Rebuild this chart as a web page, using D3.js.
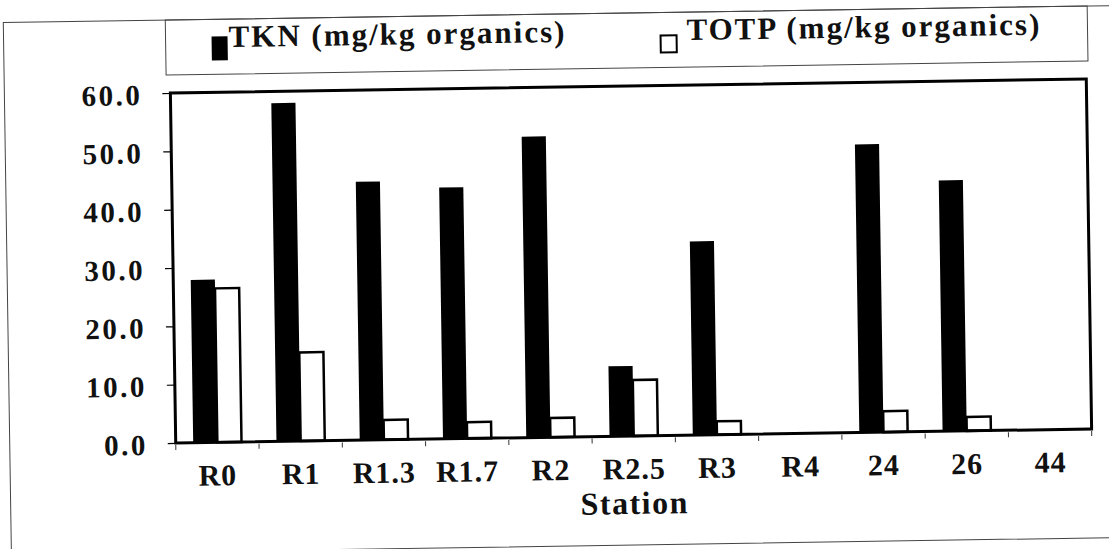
<!DOCTYPE html>
<html>
<head>
<meta charset="utf-8">
<script src="https://cdn.jsdelivr.net/npm/d3@7"></script>
<style>
  body { margin: 0; background: #fff; }
  text { font-family: "Liberation Serif", "Times New Roman", serif; font-weight: bold; fill: #111; }
</style>
</head>
<body>
<svg id="chart"></svg>
<script>
// Data
const stations = ["R0", "R1", "R1.3", "R1.7", "R2", "R2.5", "R3", "R4", "24", "26", "44"];
const tkn  = [27.9, 58.0, 44.3, 43.1, 51.6, 12.0, 33.2, 0, 49.4, 43.0, 0];
const totp = [26.4, 15.2, 3.4, 2.8, 3.3, 9.6, 2.3, 0, 3.6, 2.4, 0];
const yTicks = [0, 10, 20, 30, 40, 50, 60];
const seriesNames = ["TKN (mg/kg organics)", "TOTP (mg/kg organics)"];

const width = 1109, height = 549;
const plot = {left: 173, right: 1089, top: 86, bottom: 436};

const svg = d3.select("#chart")
    .attr("width", width)
    .attr("height", height);

svg.append("rect")
    .attr("width", width)
    .attr("height", height)
    .attr("fill", "#fff");

// the scan is slightly tilted, so everything sits in one rotated group
const g = svg.append("g")
    .attr("transform", "rotate(-0.875, 631, 261)");

// outer chart frame and legend box (thin, grey)
g.append("rect")
    .attr("x", 7).attr("y", 13)
    .attr("width", 1140).attr("height", 532)
    .attr("fill", "none")
    .attr("stroke", "#444")
    .attr("stroke-width", 1);
g.append("rect")
    .attr("x", 169).attr("y", 13)
    .attr("width", 922).attr("height", 55)
    .attr("fill", "none")
    .attr("stroke", "#444")
    .attr("stroke-width", 1);

// scales
const x0 = d3.scaleBand()
    .domain(stations)
    .range([plot.left, plot.right])
    .paddingInner(0.42)
    .paddingOuter(0.21);
const x1 = d3.scaleBand()
    .domain(["tkn", "totp"])
    .range([0, x0.bandwidth()]);
const y = d3.scaleLinear()
    .domain([0, 60])
    .range([plot.bottom, plot.top]);

// bars
const rows = stations.map((s, i) => ({station: s, tkn: tkn[i], totp: totp[i]}));
const groups = g.selectAll(".station")
    .data(rows)
    .join("g")
        .attr("class", "station")
        .attr("transform", d => "translate(" + x0(d.station) + ",0)");
groups.append("rect")
    .attr("x", x1("tkn"))
    .attr("width", x1.bandwidth())
    .attr("y", d => y(d.tkn))
    .attr("height", d => y(0) - y(d.tkn))
    .attr("fill", "#000");
groups.filter(d => d.totp > 0).append("rect")
    .attr("x", x1("totp"))
    .attr("width", x1.bandwidth())
    .attr("y", d => y(d.totp))
    .attr("height", d => y(0) - y(d.totp))
    .attr("fill", "#fff")
    .attr("stroke", "#000")
    .attr("stroke-width", 2.5);

// plot box
g.append("rect")
    .attr("x", plot.left).attr("y", plot.top)
    .attr("width", plot.right - plot.left)
    .attr("height", plot.bottom - plot.top)
    .attr("fill", "none")
    .attr("stroke", "#000")
    .attr("stroke-width", 3);

// y axis
const yAxis = g.append("g")
    .attr("transform", "translate(" + plot.left + ",0)")
    .call(d3.axisLeft(y).tickValues(yTicks).tickFormat(d3.format(".1f")).tickSize(8).tickPadding(20));
yAxis.select(".domain").remove();
yAxis.selectAll(".tick line").attr("stroke", "#000").attr("stroke-width", 1.2);
yAxis.selectAll(".tick text")
    .style("font-family", "'Liberation Serif', serif")
    .style("font-weight", "bold")
    .style("font-size", "29px")
    .style("letter-spacing", "2.5px")
    .attr("fill", "#111")
    .attr("dy", "0.38em");

// x axis: small ticks between stations, labels centred
const step = x0.step();
const bounds = stations.map(s => x0(s) - step * x0.paddingInner() / 2).concat([plot.right]);
g.selectAll(".xTick")
    .data(bounds)
    .join("line")
        .attr("class", "xTick")
        .attr("x1", d => d).attr("x2", d => d)
        .attr("y1", plot.bottom + 2).attr("y2", plot.bottom + 7)
        .attr("stroke", "#333")
        .attr("stroke-width", 1);
g.selectAll(".xLabel")
    .data(stations)
    .join("text")
        .attr("class", "xLabel")
        .attr("x", d => x0(d) + x0.bandwidth() / 2)
        .attr("y", plot.bottom + 43)
        .attr("text-anchor", "middle")
        .style("font-size", "30px")
        .style("letter-spacing", "1px")
        .text(d => d);
g.append("text")
    .attr("x", (plot.left + plot.right) / 2)
    .attr("y", plot.bottom + 78)
    .attr("text-anchor", "middle")
    .style("font-size", "32px")
    .style("letter-spacing", "1.5px")
    .text("Station");

// legend
const legend = [
    {name: seriesNames[0], sx: 216, sy: 31, sw: 14, sh: 22, fill: "#000", tx: 232},
    {name: seriesNames[1], sx: 664, sy: 36, sw: 16, sh: 17, fill: "#fff", tx: 690}
];
legend.forEach(l => {
    g.append("rect")
        .attr("x", l.sx).attr("y", l.sy)
        .attr("width", l.sw).attr("height", l.sh)
        .attr("fill", l.fill)
        .attr("stroke", "#000")
        .attr("stroke-width", 2);
    g.append("text")
        .attr("x", l.tx)
        .attr("y", 41)
        .style("font-size", "31px")
        .style("letter-spacing", "2px")
        .text(l.name);
});
</script>
</body>
</html>
